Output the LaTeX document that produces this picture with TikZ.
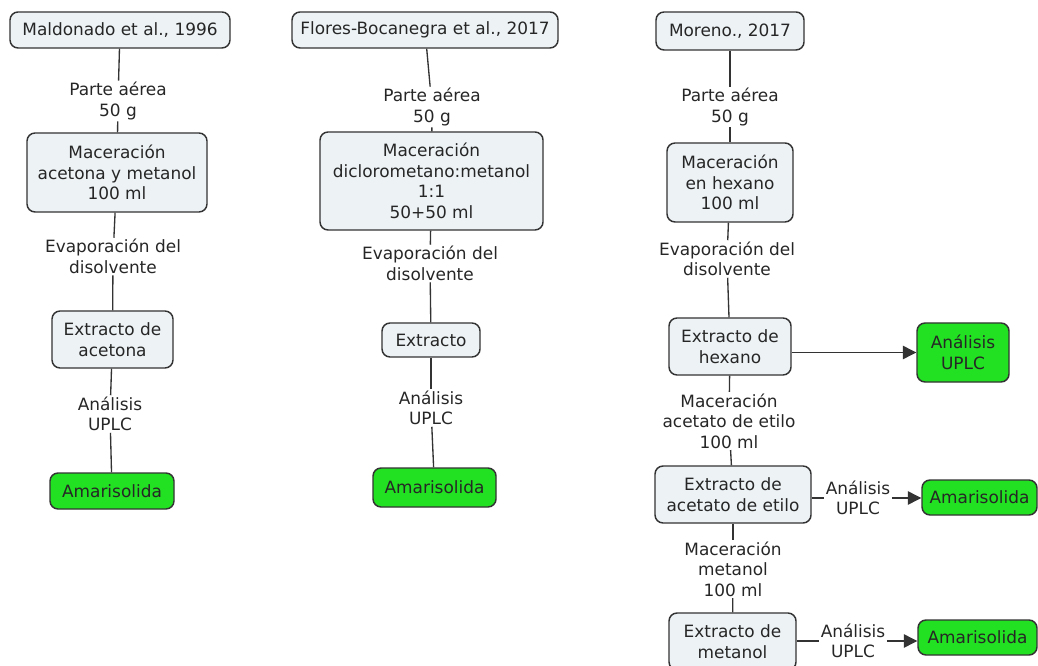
\documentclass[tikz,border=0pt]{standalone}
\usepackage{fontspec}
\setmainfont{DejaVu Sans}
\usetikzlibrary{arrows.meta}

\definecolor{boxfill}{HTML}{EDF2F5}
\definecolor{okgreen}{HTML}{22E022}
\definecolor{edge}{HTML}{333333}

\begin{document}
\begin{tikzpicture}[
        x=0.75pt, y=-0.75pt,
        font=\fontsize{12.7pt}{15.4pt}\selectfont,
        box/.style={draw=edge, line width=1.1pt, fill=boxfill, rounded corners=6pt,
                    inner sep=0pt, align=center, text=black!85},
        result/.style={box, fill=okgreen},
        lbl/.style={inner sep=1pt, align=center, text=black!85},
        link/.style={draw=edge, line width=1pt},
        >={Triangle[length=10pt, width=10pt]},
    ]
    \useasboundingbox (0,0) rectangle (1038,666);

    % Maldonado
    \node[box, minimum width=165pt, minimum height=27pt] (mal) at (120,30) {Maldonado et al., 1996};
    \node[lbl] (parte1) at (118,101) {Parte aérea\\50 g};
    \node[box, minimum width=135pt, minimum height=59.25pt] (mac1) at (117,172.5) {Maceración\\acetona y metanol\\100 ml};
    \node[lbl] (evap1) at (113,256.5) {Evaporación del\\disolvente};
    \node[box, minimum width=90.75pt, minimum height=42.75pt] (ext1) at (112.5,339.5) {Extracto de\\acetona};
    \node[lbl] (ana1) at (110,414) {Análisis\\UPLC};
    \node[result, minimum width=93pt, minimum height=27pt] (ama1) at (112,491) {Amarisolida};

    \draw[link] (mal) -- (parte1);
    \draw[link] (parte1) -- (mac1);
    \draw[link] (mac1) -- (evap1);
    \draw[link] (evap1) -- (ext1);
    \draw[link] (ext1) -- (ana1);
    \draw[link] (ana1) -- (ama1);

    % Flores-Bocanegra
    \node[box, minimum width=199.5pt, minimum height=27pt] (flo) at (425,30) {Flores-Bocanegra et al., 2017};
    \node[lbl] (parte2) at (432,107) {Parte aérea\\50 g};
    \node[box, minimum width=167.25pt, minimum height=73.5pt] (mac2) at (431.5,181) {Maceración\\diclorometano:metanol\\1:1\\50+50 ml};
    \node[lbl] (evap2) at (430,263.5) {Evaporación del\\disolvente};
    \node[box, minimum width=73.5pt, minimum height=25.5pt] (ext2) at (431,340) {Extracto};
    \node[lbl] (ana2) at (431,408) {Análisis\\UPLC};
    \node[result, minimum width=92.25pt, minimum height=29.25pt] (ama2) at (434.5,487.5) {Amarisolida};

    \draw[link] (flo) -- (parte2);
    \draw[link] (parte2) -- (mac2);
    \draw[link] (mac2) -- (evap2);
    \draw[link] (evap2) -- (ext2);
    \draw[link] (ext2) -- (ana2);
    \draw[link] (ana2) -- (ama2);

    % Moreno
    \node[box, minimum width=111pt, minimum height=28.5pt] (mor) at (730,31) {Moreno., 2017};
    \node[lbl] (parte3) at (730,107) {Parte aérea\\50 g};
    \node[box, minimum width=94.5pt, minimum height=59.25pt] (mac3) at (730,182.5) {Maceración\\en hexano\\100 ml};
    \node[lbl] (evap3) at (727,259) {Evaporación del\\disolvente};
    \node[box, minimum width=91.5pt, minimum height=42.75pt] (ext3) at (730,346.5) {Extracto de\\hexano};
    \node[result, minimum width=69pt, minimum height=44.25pt] (anabox) at (963,352.5) {Análisis\\UPLC};
    \node[lbl] (macac) at (729,421) {Maceración\\acetato de etilo\\100 ml};
    \node[box, minimum width=117pt, minimum height=42.75pt] (ext4) at (733,494.5) {Extracto de\\acetato de etilo};
    \node[lbl] (ana4) at (858,498) {Análisis\\UPLC};
    \node[result, minimum width=86.25pt, minimum height=26.25pt] (ama4) at (979.5,497.5) {Amarisolida};
    \node[lbl] (macmet) at (733,569) {Maceración\\metanol\\100 ml};
    \node[box, minimum width=95.25pt, minimum height=42.75pt] (ext5) at (732.5,641.5) {Extracto de\\metanol};
    \node[lbl] (ana5) at (853,641) {Análisis\\UPLC};
    \node[result, minimum width=89.25pt, minimum height=26.25pt] (ama5) at (977.5,637.5) {Amarisolida};

    \draw[link] (mor) -- (parte3);
    \draw[link] (parte3) -- (mac3);
    \draw[link] (mac3) -- (evap3);
    \draw[link] (evap3) -- (ext3);
    \draw[link, ->] (ext3.east |- anabox) -- (anabox);
    \draw[link] (ext3) -- (macac);
    \draw[link] (macac) -- (ext4);
    \draw[link] (ext4.east |- ana4) -- (ana4);
    \draw[link, ->] (ana4) -- (ama4.west |- ana4);
    \draw[link] (ext4) -- (macmet);
    \draw[link] (macmet) -- (ext5);
    \draw[link] (ext5.east |- ana5) -- (ana5);
    \draw[link, ->] (ana5) -- (ama5.west |- ana5);
\end{tikzpicture}
\end{document}
